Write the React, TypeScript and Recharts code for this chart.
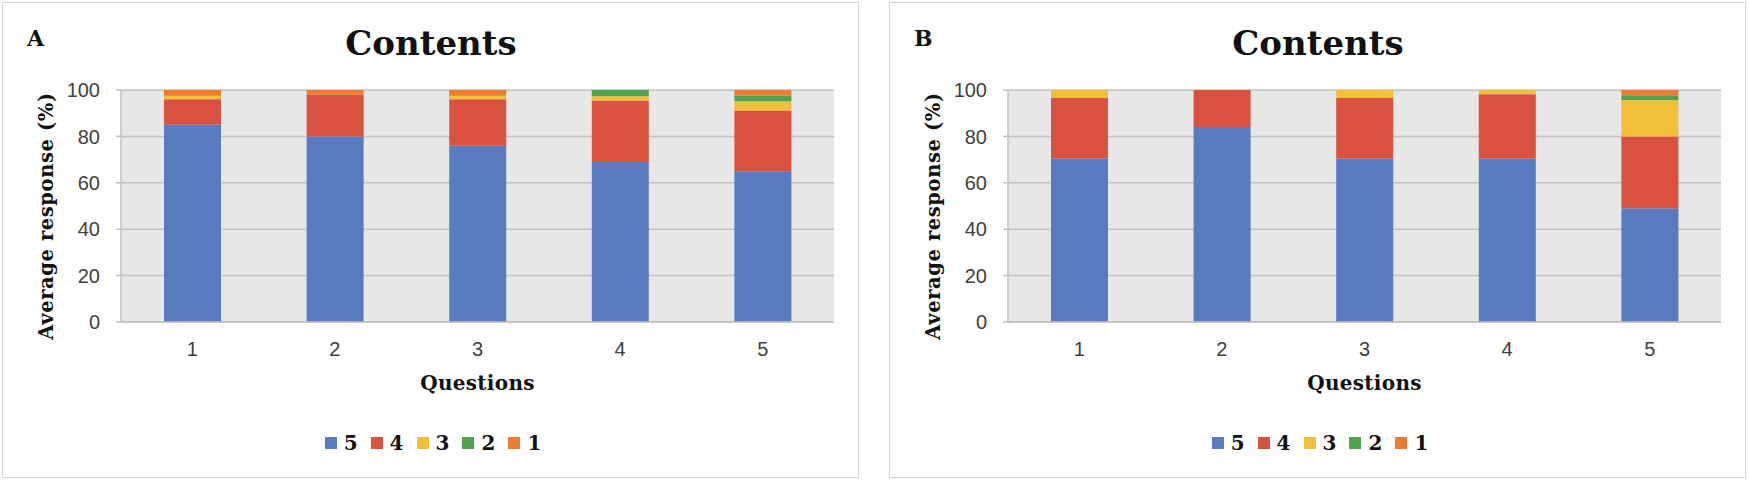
import { BarChart, Bar, XAxis, YAxis, CartesianGrid, Legend } from 'recharts';

const questions = ['1', '2', '3', '4', '5'];
const levels = ['5', '4', '3', '2', '1'];
const levelColors = ['#5a7bbf', '#d9513f', '#f2bf3b', '#50a451', '#ee7b30'];
const yTicks = [0, 20, 40, 60, 80, 100];

// panel A, share of each answer per question (%)
const a5 = [85, 80, 76, 69, 65];
const a4 = [11, 18, 20, 26.5, 26.2];
const a3 = [1.5, 0, 1.5, 1.8, 4];
const a2 = [0, 0, 0, 2.7, 2.3];
const a1 = [2.5, 2, 2.5, 0, 2.5];

// panel B
const b5 = [70.5, 84, 70.5, 70.5, 49];
const b4 = [26, 16, 26, 27.7, 31];
const b3 = [3.5, 0, 3.5, 1.8, 15.7];
const b2 = [0, 0, 0, 0, 2];
const b1 = [0, 0, 0, 0, 2.3];

const W = 857;
const H = 476;
const serif = '"DejaVu Serif", serif';
const sans = '"Liberation Sans", Arial, sans-serif';

const buildRows = (series: number[][]) =>
  questions.map((q, i) => {
    const row: Record<string, string | number> = { q };
    levels.forEach((lv, j) => {
      row['s' + lv] = series[j][i];
    });
    return row;
  });

const LegendBox = () => (
  <div style={{ display: 'flex', justifyContent: 'center', alignItems: 'center', height: 24, paddingLeft: 6 }}>
    {levels.map((lv, i) => (
      <div key={lv} style={{ display: 'flex', alignItems: 'center', marginRight: i < levels.length - 1 ? 13 : 0 }}>
        <span style={{ width: 12, height: 12, background: levelColors[i], display: 'inline-block', marginRight: 7 }} />
        <span style={{ fontFamily: serif, fontWeight: 'bold', fontSize: 20, color: '#111' }}>{lv}</span>
      </div>
    ))}
  </div>
);

interface PanelProps {
  letter: string;
  series: number[][];
  left: number;
}

const Panel = ({ letter, series, left }: PanelProps) => {
  const data = buildRows(series);
  return (
    <div
      style={{
        position: 'absolute',
        left,
        top: 2,
        width: W,
        height: H,
        boxSizing: 'border-box',
        border: '1.5px solid #d4d4d4',
        background: '#fff',
      }}
    >
      <svg width={W} height={H} style={{ position: 'absolute', left: -1.5, top: -1.5, pointerEvents: 'none' }}>
        <text x={25} y={44} fontFamily={serif} fontWeight="bold" fontSize={22} fill="#111">
          {letter}
        </text>
        <text x={429} y={53} textAnchor="middle" fontFamily={serif} fontWeight="bold" fontSize={34} fill="#111">
          Contents
        </text>
      </svg>
      <div style={{ position: 'absolute', left: -1.5, top: -1.5 }}>
        <BarChart width={W} height={H} data={data} margin={{ top: 88, right: 25, bottom: 23, left: 59 }}>
          <CartesianGrid vertical={false} fill="#e7e7e7" stroke="#c2c2c2" strokeWidth={1.5} />
          <XAxis
            dataKey="q"
            height={109}
            tickLine={false}
            tickSize={0}
            tickMargin={20}
            axisLine={{ stroke: '#c2c2c2', strokeWidth: 1.5 }}
            tick={{ fontFamily: sans, fontSize: 20, fill: '#404040' }}
            label={{
              content: ({ viewBox }: any) => (
                <text
                  x={viewBox.x + viewBox.width / 2}
                  y={388}
                  textAnchor="middle"
                  fontFamily={serif}
                  fontWeight="bold"
                  fontSize={20}
                  letterSpacing={0.3}
                  fill="#111"
                >
                  Questions
                </text>
              ),
            }}
          />
          <YAxis
            width={60}
            domain={[0, 100]}
            ticks={yTicks}
            tickSize={5}
            tickMargin={16}
            tickLine={{ stroke: '#c2c2c2', strokeWidth: 1.5 }}
            axisLine={{ stroke: '#c2c2c2', strokeWidth: 1.5 }}
            tick={{ fontFamily: sans, fontSize: 20, fill: '#404040' }}
            label={{
              content: ({ viewBox }: any) => {
                const cy = viewBox.y + viewBox.height / 2 + 10;
                return (
                  <text
                    x={51}
                    y={cy}
                    transform={`rotate(-90, 51, ${cy})`}
                    textAnchor="middle"
                    fontFamily={serif}
                    fontWeight="bold"
                    fontSize={19.5}
                    letterSpacing={0.6}
                    fill="#111"
                  >
                    Average response (%)
                  </text>
                );
              },
            }}
          />
          <Legend verticalAlign="bottom" wrapperStyle={{ left: 0, width: W }} content={() => <LegendBox />} />
          {levels.map((lv, i) => (
            <Bar
              key={lv}
              dataKey={'s' + lv}
              name={lv}
              stackId="a"
              fill={levelColors[i]}
              barSize={57}
              isAnimationActive={false}
            />
          ))}
        </BarChart>
      </div>
    </div>
  );
};

export default function App() {
  return (
    <div style={{ position: 'absolute', left: 0, top: 0, width: 1749, height: 481, background: '#fff' }}>
      <Panel letter="A" series={[a5, a4, a3, a2, a1]} left={2} />
      <Panel letter="B" series={[b5, b4, b3, b2, b1]} left={889} />
    </div>
  );
}
